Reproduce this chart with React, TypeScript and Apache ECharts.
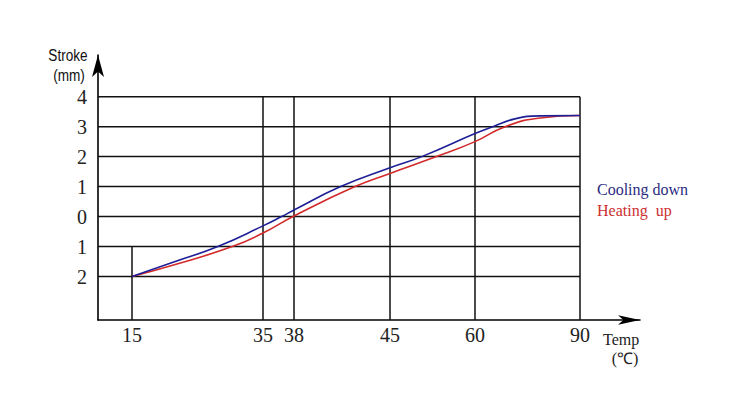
import React, { useEffect, useRef } from "react";
import * as echarts from "echarts";

// ---- data ----
const TICK_TEMPS = [15, 35, 38, 45, 60, 90];
const STROKE_TICKS = [4, 3, 2, 1, 0, -1, -2];

const coolingTemps = [15, 21.6, 28.1, 35, 36.8, 38, 41.4, 45, 50.6, 60, 65.1, 71.4, 78.6, 90];
const coolingStroke = [-2, -1.5, -1, -0.31, 0, 0.22, 1, 1.63, 2, 2.77, 3, 3.26, 3.36, 3.37];

const heatingTemps = [15, 21.6, 30.3, 35, 38, 42.45, 45, 53.2, 60, 68.6, 78.6, 90];
const heatingStroke = [-2, -1.6, -1, -0.55, 0.02, 1, 1.44, 2, 2.5, 3, 3.29, 3.37];

// ---- layout: the temperature axis is drawn with uneven spacing ----
const TICK_OFFSETS = [34, 165, 196, 292, 377, 482];
const X_AXIS_END = 542;
const Y_MIN = -3.45;
const Y_MAX = 5.39;

function warp(t: number): number {
  for (let i = 0; i < TICK_TEMPS.length - 1; i++) {
    const t0 = TICK_TEMPS[i], t1 = TICK_TEMPS[i + 1];
    if (t <= t1 || i === TICK_TEMPS.length - 2) {
      const o0 = TICK_OFFSETS[i], o1 = TICK_OFFSETS[i + 1];
      return o0 + ((t - t0) / (t1 - t0)) * (o1 - o0);
    }
  }
  return 0;
}

const SERIF = "'Liberation Serif', 'Times New Roman', serif";

export default function App() {
  const ref = useRef<HTMLDivElement>(null);
  useEffect(() => {
    if (!ref.current) return;
    const chart = echarts.init(ref.current, null, { renderer: "svg" });
    const tickPos = TICK_TEMPS.map(warp);
    const gridColor = "#111";

    const hLines = STROKE_TICKS.map((v) => ({
      type: "line",
      data: [[0, v], [warp(90), v]],
      symbol: "none",
      silent: true,
      z: 1,
      lineStyle: { color: gridColor, width: 1.5 },
    }));
    const vLines = TICK_TEMPS.map((t) => ({
      type: "line",
      data: [[warp(t), Y_MIN], [warp(t), t === 15 ? -1 : 4]],
      symbol: "none",
      silent: true,
      z: 1,
      lineStyle: { color: gridColor, width: 1.5 },
    }));

    chart.setOption({
      animation: false,
      backgroundColor: "#fff",
      grid: { left: 98, top: 55, right: 750 - 98 - X_AXIS_END, bottom: 80 },
      xAxis: {
        type: "value",
        min: 0,
        max: X_AXIS_END,
        splitLine: { show: false },
        axisTick: { show: false },
        axisLine: {
          onZero: false,
          symbol: ["none", "arrow"],
          symbolSize: [7, 22],
          lineStyle: { color: "#000", width: 1.6 },
        },
        axisLabel: {
          customValues: tickPos,
          formatter: (v: number) => {
            let best = 0;
            tickPos.forEach((p, i) => {
              if (Math.abs(p - v) < Math.abs(tickPos[best] - v)) best = i;
            });
            return String(TICK_TEMPS[best]);
          },
          fontFamily: SERIF,
          fontSize: 20,
          color: "#222",
          margin: 5,
        },
      },
      yAxis: {
        type: "value",
        min: Y_MIN,
        max: Y_MAX,
        splitLine: { show: false },
        axisTick: { show: false },
        axisLine: {
          onZero: false,
          symbol: ["none", "arrow"],
          symbolSize: [9, 22],
          lineStyle: { color: "#000", width: 1.6 },
        },
        axisLabel: {
          customValues: STROKE_TICKS,
          formatter: (v: number) => String(Math.abs(v)),
          fontFamily: SERIF,
          fontSize: 20,
          color: "#222",
          margin: 11,
        },
      },
      series: [
        ...hLines,
        ...vLines,
        {
          name: "Heating up",
          type: "line",
          data: heatingTemps.map((t, i) => [warp(t), heatingStroke[i]]),
          smooth: 0.5,
          symbol: "none",
          z: 5,
          lineStyle: { color: "#d22a2a", width: 1.6 },
        },
        {
          name: "Cooling down",
          type: "line",
          data: coolingTemps.map((t, i) => [warp(t), coolingStroke[i]]),
          smooth: 0.5,
          symbol: "none",
          z: 6,
          lineStyle: { color: "#1e1e96", width: 1.6 },
        },
      ],
      graphic: [
        {
          type: "text", x: 68, y: 55, scaleX: 0.8, silent: true,
          style: { text: "Stroke", fontFamily: "'Liberation Sans', Arial, sans-serif", fontSize: 17, fill: "#111", align: "center", verticalAlign: "middle" },
        },
        {
          type: "text", x: 69, y: 75, scaleX: 0.8, silent: true,
          style: { text: "(mm)", fontFamily: "'Liberation Sans', Arial, sans-serif", fontSize: 17, fill: "#111", align: "center", verticalAlign: "middle" },
        },
        {
          type: "text", x: 603, y: 339, silent: true,
          style: { text: "Temp", fontFamily: SERIF, fontSize: 16, fill: "#222", align: "left", verticalAlign: "middle" },
        },
        {
          type: "text", x: 625, y: 358, silent: true,
          style: { text: "(℃)", fontFamily: SERIF, fontSize: 16, fill: "#222", align: "center", verticalAlign: "middle" },
        },
        {
          type: "text", x: 597, y: 189, silent: true,
          style: { text: "Cooling down", fontFamily: SERIF, fontSize: 16, fill: "#2b2b80", align: "left", verticalAlign: "middle" },
        },
        {
          type: "text", x: 597, y: 210, silent: true,
          style: { text: "Heating  up", fontFamily: SERIF, fontSize: 16, fill: "#cc3030", align: "left", verticalAlign: "middle" },
        },
      ],
    });
    return () => chart.dispose();
  }, []);
  return (
    <div
      ref={ref}
      style={{ position: "fixed", left: 0, top: 0, width: 750, height: 400, background: "#fff" }}
    />
  );
}
